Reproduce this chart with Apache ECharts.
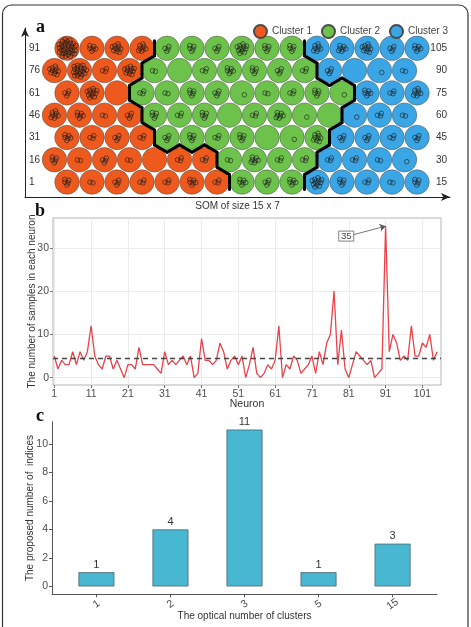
<!DOCTYPE html>
<html><head><meta charset="utf-8">
<script src="https://cdn.jsdelivr.net/npm/echarts@6/dist/echarts.min.js"></script>
<style>html,body{margin:0;padding:0;background:#fff}#c{width:471px;height:627px}</style>
</head><body><div id="c"></div>
<script>
// ---------- Panel a: SOM 15 x 7 ----------
const clusterNames = ['Cluster 1', 'Cluster 2', 'Cluster 3'];
const clusterColors = ['#EE5A1E', '#6DC24C', '#3BA6E6'];
// rows from bottom (neurons 1-15) to top (neurons 91-105)
const clusterRows = [
  '111111122233333',
  '111111122223333',
  '111122222223333',
  '111122222222333',
  '111222222222333',
  '111122222223333',
  '111122222233333'
];
const leftRowLabels = ['1', '16', '31', '46', '61', '76', '91'];
const rightRowLabels = ['15', '30', '45', '60', '75', '90', '105'];
const somTitle = 'SOM of size 15 x 7';

// ---------- Panel b: samples per neuron ----------
const sampleCounts = [
  5, 2, 4, 3, 3, 6, 3, 6, 4, 6,
  12, 5, 3, 2, 5, 5, 2, 4, 2, 0,
  3, 3, 2, 7, 3, 3, 3, 3, 2, 1,
  6, 3, 4, 3, 4, 5, 3, 5, 0, 1,
  9, 4, 4, 3, 4, 8, 6, 2, 4, 5,
  3, 5, 0, 3, 7, 1, 0, 1, 3, 2,
  4, 12, 0, 3, 2, 5, 4, 1, 2, 3,
  5, 1, 6, 3, 8, 10, 20, 3, 11, 2,
  0, 3, 6, 5, 4, 3, 4, 0, 1, 2,
  35, 6, 10, 8, 4, 5, 4, 12, 5, 5,
  8, 7, 10, 4, 6
];
const meanCount = 4.6;
const neuronTicks = [1, 11, 21, 31, 41, 51, 61, 71, 81, 91, 101];
const countTicks = [0, 10, 20, 30];
const peakLabel = '35';
const peakNeuron = 91;
const peakValue = 35;

// ---------- Panel c: optimal number of clusters ----------
const clusterOptions = ['1', '2', '3', '5', '15'];
const indicesCount = [1, 4, 11, 1, 3];
const indicesTicks = [0, 2, 4, 6, 8, 10];

// ---------- build SOM cells ----------
const cells = [];
for (let r = 0; r < 7; r++) {
  for (let c = 0; c < 15; c++) {
    cells.push({ x: c + (r % 2 === 0 ? 1 : 0.5), y: r, k: +clusterRows[r][c] - 1, n: sampleCounts[r * 15 + c] });
  }
}
const offs = [[1, 0], [0.5, 1], [-0.5, 1], [-1, 0], [-0.5, -1], [0.5, -1]];
const edges = [];
for (let i = 0; i < cells.length; i++) {
  for (let j = i + 1; j < cells.length; j++) {
    const a = cells[i], b = cells[j];
    if (a.k === b.k) continue;
    const dx = b.x - a.x, dy = b.y - a.y;
    const idx = offs.findIndex(o => o[0] === dx && o[1] === dy);
    if (idx < 0) continue;
    const o1 = offs[(idx + 1) % 6], o2 = offs[(idx + 5) % 6];
    edges.push([a.x, a.y, b.x, b.y, a.x + o1[0], a.y + o1[1], a.x + o2[0], a.y + o2[1]]);
  }
}

const clusterSeries = clusterNames.map((name, k) => ({
  name, type: 'scatter', xAxisIndex: 0, yAxisIndex: 0,
  symbol: 'circle', symbolSize: 24.5,
  itemStyle: { color: clusterColors[k], borderColor: '#4a4a4a', borderWidth: 0.5, opacity: 1 },
  data: cells.filter(c => c.k === k).map(c => [c.x, c.y]),
  silent: true, z: 2
}));

const samplesSeries = {
  type: 'custom', xAxisIndex: 0, yAxisIndex: 0, z: 3, silent: true,
  data: cells.map(c => [c.x, c.y, c.n]),
  encode: { x: 0, y: 1 },
  renderItem(params, api) {
    const p = api.coord([api.value(0), api.value(1)]);
    const n = api.value(2);
    const children = [];
    for (let k = 0; k < n; k++) {
      const ang = k * 2.39996 + 0.7;
      const rr = n === 1 ? 3 : 1.6 * Math.sqrt(k + 0.6);
      children.push({ type: 'circle', shape: { cx: p[0] + rr * Math.cos(ang), cy: p[1] + rr * Math.sin(ang), r: 2.3 },
        style: { fill: 'none', stroke: '#1a1a1a', lineWidth: 0.6 } });
    }
    return { type: 'group', children };
  }
};

const boundarySeries = {
  type: 'custom', xAxisIndex: 0, yAxisIndex: 0, z: 4, silent: true,
  data: edges, encode: { x: [0, 2], y: [1, 3] },
  renderItem(params, api) {
    const P = i => api.coord([api.value(i), api.value(i + 1)]);
    const a = P(0), b = P(2), c1 = P(4), c2 = P(6);
    const v1 = [(a[0] + b[0] + c1[0]) / 3, (a[1] + b[1] + c1[1]) / 3];
    const v2 = [(a[0] + b[0] + c2[0]) / 3, (a[1] + b[1] + c2[1]) / 3];
    return { type: 'line', shape: { x1: v1[0], y1: v1[1], x2: v2[0], y2: v2[1] },
      style: { stroke: '#000', lineWidth: 3, lineCap: 'round' } };
  }
};

const axisGrey = '#4d4d4d';
const chart = echarts.init(document.getElementById('c'), null, { renderer: 'canvas' });
chart.setOption({
  animation: false,
  backgroundColor: '#fff',
  textStyle: { fontFamily: 'Liberation Sans, Arial, sans-serif' },
  legend: {
    data: clusterNames, right: 18, top: 19, icon: 'circle', itemWidth: 13, itemHeight: 13, itemGap: 9,
    textStyle: { fontSize: 10, color: '#444' }, selectedMode: false
  },
  grid: [
    { left: 25, top: 28, width: 425, height: 169 },
    { left: 53, top: 218, width: 388, height: 167, show: true, borderColor: '#b5b5b5', borderWidth: 1, backgroundColor: '#fff' },
    { left: 52, top: 421.7, width: 385, height: 172.6 }
  ],
  xAxis: [
    { gridIndex: 0, type: 'value', min: -0.68, max: 16.32,
      axisLine: { show: true, onZero: false, symbol: ['none', 'arrow'], symbolSize: [6, 9], lineStyle: { color: '#222', width: 1 } },
      axisTick: { show: false }, axisLabel: { show: false }, splitLine: { show: false },
      name: somTitle, nameLocation: 'middle', nameGap: 4, nameMoveOverlap: false,
      nameTextStyle: { fontSize: 10, color: '#333', verticalAlign: 'top' } },
    { gridIndex: 1, type: 'value', min: 0.65, max: 106.05,
      axisLine: { show: false, onZero: false },
      axisTick: { show: true, customValues: neuronTicks, length: 3, lineStyle: { color: '#777' } },
      axisLabel: { customValues: neuronTicks, fontSize: 10.5, color: axisGrey, margin: 4 },
      splitLine: { show: true, lineStyle: { color: '#ebebeb', width: 1 } },
      name: 'Neuron', nameLocation: 'middle', nameGap: 14, nameMoveOverlap: false,
      nameTextStyle: { fontSize: 10.5, color: '#333', verticalAlign: 'top' } },
    { gridIndex: 2, type: 'value', min: 0.4, max: 5.6,
      axisLine: { show: true, onZero: false, lineStyle: { color: '#555', width: 1 } },
      axisTick: { show: true, customValues: [1, 2, 3, 4, 5], length: 3, lineStyle: { color: '#555' } },
      axisLabel: { customValues: [1, 2, 3, 4, 5], formatter: v => clusterOptions[v - 1], rotate: 35,
        fontSize: 10.5, color: axisGrey, margin: 10, align: 'center', verticalAlign: 'middle' },
      splitLine: { show: false },
      name: 'The optical number of clusters', nameLocation: 'middle', nameGap: 17, nameMoveOverlap: false,
      nameTextStyle: { fontSize: 10, color: '#333', verticalAlign: 'top' } }
  ],
  yAxis: [
    { gridIndex: 0, type: 'value', min: -0.67, max: 6.91,
      axisLine: { show: true, onZero: false, symbol: ['none', 'arrow'], symbolSize: [6, 9], lineStyle: { color: '#222', width: 1 } },
      axisTick: { show: false }, splitLine: { show: false },
      axisLabel: { inside: true, margin: 4, customValues: [0, 1, 2, 3, 4, 5, 6], formatter: v => leftRowLabels[v], fontSize: 10, color: '#333' } },
    { gridIndex: 0, type: 'value', position: 'right', min: -0.67, max: 6.91,
      axisLine: { show: false, onZero: false }, axisTick: { show: false }, splitLine: { show: false },
      axisLabel: { inside: true, margin: 3, customValues: [0, 1, 2, 3, 4, 5, 6], formatter: v => rightRowLabels[v], fontSize: 10, color: '#333' } },
    { gridIndex: 1, type: 'value', min: -1.69, max: 36.88,
      axisLine: { show: false, onZero: false },
      axisTick: { show: true, customValues: countTicks, length: 3, lineStyle: { color: '#777' } },
      axisLabel: { customValues: countTicks, fontSize: 10.5, color: axisGrey, margin: 4 },
      splitLine: { show: true, lineStyle: { color: '#ebebeb', width: 1 } },
      name: 'The number of samples in each neuron', nameLocation: 'middle', nameGap: 16, nameMoveOverlap: false,
      nameTextStyle: { fontSize: 10, color: '#333' } },
    { gridIndex: 2, type: 'value', min: -0.55, max: 11.55,
      axisLine: { show: true, onZero: false, lineStyle: { color: '#555', width: 1 } },
      axisTick: { show: true, customValues: indicesTicks, length: 3, lineStyle: { color: '#555' } },
      axisLabel: { customValues: indicesTicks, fontSize: 10.5, color: axisGrey, margin: 4 },
      splitLine: { show: false },
      name: 'The proposed number of  indices', nameLocation: 'middle', nameGap: 17, nameMoveOverlap: false,
      nameTextStyle: { fontSize: 10, color: '#333' } }
  ],
  series: [
    ...clusterSeries,
    samplesSeries,
    boundarySeries,
    {
      type: 'line', xAxisIndex: 1, yAxisIndex: 2, silent: true,
      data: sampleCounts.map((v, i) => [i + 1, v]),
      symbol: 'none', lineStyle: { color: '#E8424B', width: 1.3 },
      markLine: {
        silent: true, symbol: ['none', 'none'], symbolSize: 6, label: { show: false },
        lineStyle: { color: '#555', width: 0.8, type: 'solid' },
        data: [
          { yAxis: meanCount, lineStyle: { type: [5, 4], color: '#444', width: 1.4 } },
          [ { coord: [82.2, 33.0], symbol: 'none' }, { coord: [peakNeuron, peakValue], symbol: 'arrow' } ]
        ]
      },
      markPoint: {
        silent: true, symbol: 'rect', symbolSize: [15, 10],
        itemStyle: { color: '#fff', borderColor: '#666', borderWidth: 0.8 },
        label: { show: true, position: 'inside', formatter: peakLabel, fontSize: 9.5, color: '#444' },
        data: [{ coord: [80.3, 32.7] }]
      }
    },
    {
      type: 'bar', xAxisIndex: 2, yAxisIndex: 3, silent: true, barWidth: 36,
      data: indicesCount.map((v, i) => [i + 1, v]),
      itemStyle: { color: '#47B7D2', borderColor: '#4c6670', borderWidth: 0.8 },
      label: { show: true, position: 'top', distance: 2, fontSize: 11, color: '#333', formatter: p => p.value[1] }
    }
  ],
  graphic: [
    { type: 'rect', shape: { x: 2.5, y: 5, width: 465.5, height: 650, r: 9 }, style: { fill: 'none', stroke: '#333', lineWidth: 1.2 }, silent: true, z: 100 },
    { type: 'text', x: 36, y: 27, style: { text: 'a', font: 'bold 18px "Liberation Serif", serif', fill: '#111', textVerticalAlign: 'middle' } },
    { type: 'text', x: 35, y: 211, style: { text: 'b', font: 'bold 18px "Liberation Serif", serif', fill: '#111', textVerticalAlign: 'middle' } },
    { type: 'text', x: 36, y: 416, style: { text: 'c', font: 'bold 18px "Liberation Serif", serif', fill: '#111', textVerticalAlign: 'middle' } }
  ]
});
</script>
</body></html>
